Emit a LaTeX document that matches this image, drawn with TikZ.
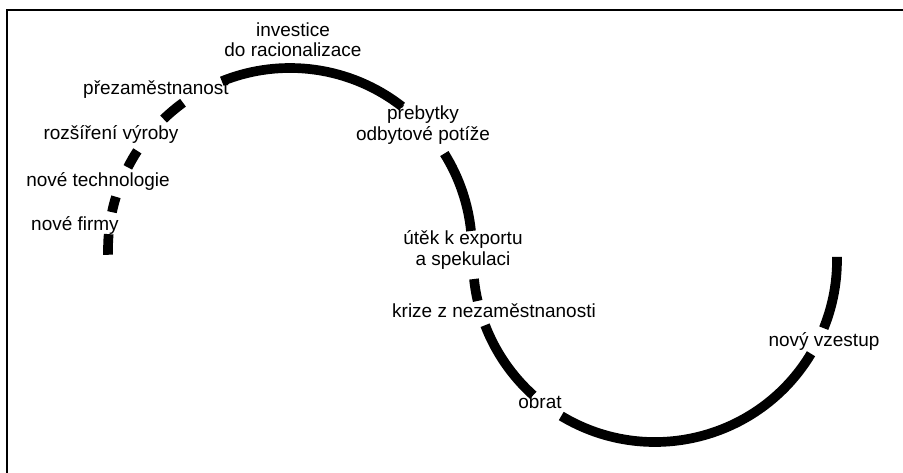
\documentclass[tikz,border=0pt]{standalone}
\usepackage{fontspec}
\setmainfont{Liberation Sans}
\usetikzlibrary{calc}
\newcommand\cycrad{182}
\newcommand\cyclearc[4]{\draw[line width=5.5pt, line cap=butt] ([shift={(#3:\cycrad)}]#1,#2) arc[start angle=#3, end angle=#4, radius=\cycrad];}
\tikzset{phase/.style={align=center, inner sep=1pt, font=\fontsize{10.8}{11.5}\selectfont}}

\begin{document}
\begin{tikzpicture}[x=0.02cm, y=0.02cm]
\useasboundingbox (0,0) rectangle (903,473);
\draw[line width=1.2pt] (7,0) |- (903,463);

% upper half circle
\cyclearc{290}{223}{181.5}{175}
	\cyclearc{290}{223}{168}{163}
	\cyclearc{290}{223}{153}{147}
	\cyclearc{290}{223}{134}{126}
	\cyclearc{290}{223}{112}{52}
	\cyclearc{290}{223}{32}{6}
% lower half circle
	\cyclearc{655}{213}{186}{193}
	\cyclearc{655}{213}{201}{228}
	\cyclearc{655}{213}{239}{329}
	\cyclearc{655}{213}{338}{361}

	\node[phase] (firmy) at (75,248) {nové firmy};
	\node[phase] (techno) at (98,292) {nové technologie};
	\node[phase] (rozsir) at (111,339) {rozšíření výroby};
	\node[phase] (preza) at (156,383) {přezaměstnanost};
	\node[phase] (invest) at (293,433) {investice\\do racionalizace};
	\node[phase] (prebyt) at (423,348) {přebytky\\odbytové potíže};
	\node[phase] (utek) at (463,223) {útěk k exportu\\a spekulaci};
	\node[phase] (krize) at (494,162) {krize z nezaměstnanosti};
	\node[phase] (obrat) at (540,71) {obrat};
	\node[phase] (vzestup) at (824,132) {nový vzestup};
\end{tikzpicture}
\end{document}
